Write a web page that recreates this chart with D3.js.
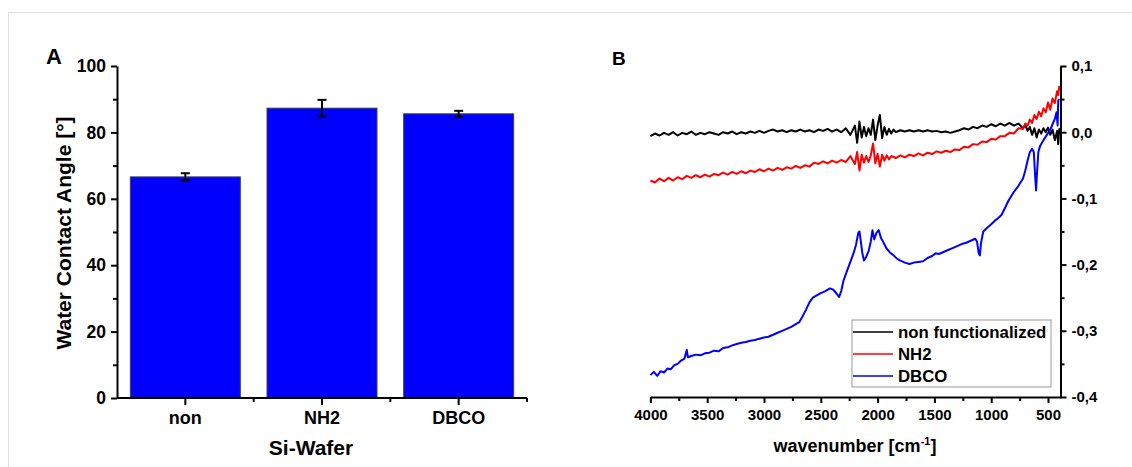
<!DOCTYPE html>
<html><head><meta charset="utf-8">
<script src="https://cdn.jsdelivr.net/npm/d3@7"></script>
<style>
html,body{margin:0;padding:0;background:#fff;}
svg text{font-family:"Liberation Sans",Arial,sans-serif;font-weight:bold;fill:#000;}
</style></head><body>
<svg id="c" width="1132" height="467"></svg>
<script>
// ---------- DATA ----------
const categories = ["non", "NH2", "DBCO"];
const contactAngle = [66.6, 87.3, 85.6];
const contactAngleErr = [1.1, 2.5, 0.9];
const yTicksA = [0, 20, 40, 60, 80, 100];
const yMinorA = [10, 30, 50, 70, 90];

const xTicksB = [4000, 3500, 3000, 2500, 2000, 1500, 1000, 500];
const xMinorB = [3750, 3250, 2750, 2250, 1750, 1250, 750];
const yTicksB = [0.1, 0.0, -0.1, -0.2, -0.3, -0.4];
const yMinorB = [0.05, -0.05, -0.15, -0.25, -0.35];

const seriesNames = ["non functionalized", "NH2", "DBCO"];
const seriesColors = ["#000000", "#ff0000", "#0000ff"];

const nonFunctionalized = [
[4000,-0.006],[3960,-0.002],[3920,-0.005],[3880,-0.001],[3840,-0.004],[3800,0.000],[3760,-0.005],[3720,-0.001],
[3680,-0.003],[3640,0.001],[3600,-0.004],[3560,-0.001],[3520,-0.003],[3480,0.000],[3440,-0.002],[3400,-0.004],
[3360,0.000],[3320,-0.002],[3280,0.001],[3240,-0.003],[3200,0.000],[3160,-0.002],[3120,0.001],[3080,-0.001],
[3040,0.002],[3000,-0.001],[2960,0.002],[2920,0.004],[2880,0.001],[2840,0.003],[2800,0.000],[2760,0.003],
[2720,0.001],[2680,0.004],[2640,0.001],[2600,0.003],[2560,0.000],[2520,0.004],[2480,0.002],[2440,0.005],
[2400,0.001],[2360,0.004],[2320,0.000],[2280,0.006],[2240,-0.004],[2200,0.010],[2180,-0.016],[2160,0.016],
[2140,-0.008],[2120,0.008],[2100,-0.006],[2080,0.006],[2060,-0.004],[2040,0.019],[2020,-0.012],[2000,0.010],
[1980,0.026],[1960,-0.009],[1940,0.008],[1920,-0.004],[1900,0.005],[1880,-0.002],[1860,0.004],[1840,0.000],
[1800,0.003],[1760,0.001],[1720,0.003],[1680,0.001],[1640,0.003],[1600,0.001],[1560,0.003],[1520,0.001],
[1480,0.002],[1440,0.000],[1400,0.001],[1360,-0.001],[1320,0.001],[1280,0.003],[1240,0.006],[1200,0.004],
[1160,0.008],[1120,0.006],[1080,0.010],[1040,0.008],[1000,0.012],[960,0.009],[920,0.013],[880,0.010],
[840,0.014],[800,0.010],[760,0.013],[720,0.006],[700,0.011],[680,0.002],[660,0.008],[640,-0.004],
[620,0.006],[600,-0.008],[580,0.004],[560,-0.002],[540,0.006],[520,0.000],[500,0.007],[480,-0.004],
[460,0.004],[440,-0.012],[420,0.002],[410,-0.018],[400,0.006]
];

const nh2 = [
[4000,-0.073],[3960,-0.076],[3920,-0.070],[3880,-0.074],[3840,-0.069],[3800,-0.073],[3760,-0.068],[3720,-0.071],
[3680,-0.066],[3640,-0.069],[3600,-0.065],[3560,-0.068],[3520,-0.064],[3480,-0.067],[3440,-0.063],[3400,-0.065],
[3360,-0.061],[3320,-0.064],[3280,-0.060],[3240,-0.063],[3200,-0.059],[3160,-0.062],[3120,-0.058],[3080,-0.060],
[3040,-0.056],[3000,-0.059],[2960,-0.055],[2920,-0.058],[2880,-0.054],[2840,-0.057],[2800,-0.053],[2760,-0.055],
[2720,-0.051],[2680,-0.054],[2640,-0.050],[2600,-0.052],[2560,-0.046],[2520,-0.048],[2480,-0.044],[2440,-0.047],
[2400,-0.043],[2360,-0.046],[2320,-0.042],[2280,-0.045],[2240,-0.036],[2200,-0.048],[2180,-0.030],[2160,-0.058],
[2140,-0.034],[2120,-0.046],[2100,-0.036],[2080,-0.045],[2060,-0.035],[2040,-0.017],[2020,-0.047],[2000,-0.033],
[1980,-0.052],[1960,-0.034],[1940,-0.043],[1920,-0.035],[1900,-0.041],[1880,-0.036],[1840,-0.039],[1800,-0.035],
[1760,-0.038],[1720,-0.034],[1680,-0.036],[1640,-0.032],[1600,-0.035],[1560,-0.031],[1520,-0.033],[1480,-0.029],
[1440,-0.031],[1400,-0.028],[1360,-0.030],[1320,-0.026],[1280,-0.027],[1240,-0.022],[1200,-0.023],[1160,-0.018],
[1120,-0.019],[1080,-0.014],[1040,-0.015],[1000,-0.010],[960,-0.011],[920,-0.006],[880,-0.006],[840,-0.001],
[800,-0.002],[760,0.006],[720,0.005],[700,0.013],[680,0.010],[660,0.019],[640,0.014],[620,0.026],
[600,0.020],[580,0.031],[560,0.024],[540,0.036],[520,0.030],[500,0.045],[480,0.034],[460,0.051],
[440,0.044],[420,0.062],[410,0.056],[400,0.070]
];

const dbco = [
[4000,-0.367],[3970,-0.362],[3940,-0.368],[3910,-0.361],[3880,-0.363],[3850,-0.357],[3820,-0.358],[3790,-0.352],
[3760,-0.350],[3730,-0.345],[3700,-0.342],[3680,-0.329],[3670,-0.340],[3640,-0.338],[3600,-0.336],[3560,-0.337],
[3520,-0.334],[3480,-0.333],[3440,-0.330],[3400,-0.331],[3360,-0.326],[3320,-0.325],[3280,-0.322],[3240,-0.320],
[3200,-0.318],[3160,-0.317],[3120,-0.315],[3080,-0.314],[3040,-0.312],[3000,-0.310],[2960,-0.309],[2920,-0.306],
[2880,-0.303],[2840,-0.300],[2800,-0.297],[2760,-0.294],[2720,-0.290],[2690,-0.287],[2660,-0.278],[2630,-0.268],
[2600,-0.257],[2570,-0.250],[2540,-0.247],[2500,-0.243],[2460,-0.240],[2420,-0.236],[2390,-0.238],[2360,-0.244],
[2340,-0.249],[2320,-0.240],[2300,-0.224],[2270,-0.210],[2240,-0.196],[2210,-0.182],[2190,-0.170],[2170,-0.152],
[2160,-0.150],[2150,-0.162],[2135,-0.182],[2120,-0.194],[2100,-0.188],[2080,-0.180],[2060,-0.165],[2045,-0.148],
[2030,-0.162],[2010,-0.152],[1990,-0.148],[1970,-0.160],[1950,-0.166],[1920,-0.176],[1890,-0.182],[1860,-0.186],
[1830,-0.191],[1800,-0.194],[1760,-0.197],[1720,-0.199],[1680,-0.197],[1640,-0.196],[1600,-0.195],[1560,-0.190],
[1520,-0.187],[1490,-0.183],[1460,-0.184],[1420,-0.181],[1380,-0.178],[1340,-0.175],[1300,-0.172],[1260,-0.169],
[1220,-0.167],[1180,-0.164],[1140,-0.161],[1125,-0.165],[1110,-0.183],[1100,-0.186],[1090,-0.168],[1070,-0.150],
[1040,-0.145],[1000,-0.139],[970,-0.134],[940,-0.130],[910,-0.125],[880,-0.115],[850,-0.104],[836,-0.100],
[800,-0.090],[760,-0.081],[720,-0.070],[700,-0.058],[680,-0.043],[660,-0.030],[640,-0.025],[625,-0.030],
[612,-0.070],[605,-0.088],[598,-0.065],[585,-0.030],[570,-0.021],[540,-0.012],[510,-0.004],[480,0.004],
[460,0.012],[440,0.020],[425,0.030],[415,0.010],[410,0.048],[400,0.050]
];
const spectra = [nonFunctionalized, nh2, dbco];

// ---------- DRAW ----------
const svg = d3.select("#c");
svg.append("rect").attr("x",8.5).attr("y",12.5).attr("width",1200).attr("height",500)
  .attr("fill","none").attr("stroke","#e3e3e3").attr("stroke-width",1);

function styleAxis(g){
  g.selectAll("path,line").attr("stroke","#000").attr("stroke-width",2);
}

// ===== Panel A =====
const xA = d3.scaleBand().domain(categories).range([117, 527]).paddingInner(0.195).paddingOuter(0.0975);
const yA = d3.scaleLinear().domain([0, 100]).range([398, 66]);

svg.append("g").selectAll("rect").data(categories).join("rect")
  .attr("x", d => xA(d)).attr("width", xA.bandwidth())
  .attr("y", (d,i) => yA(contactAngle[i])).attr("height", (d,i) => yA(0) - yA(contactAngle[i]))
  .attr("fill", "#0000ff").attr("stroke", "#444").attr("stroke-width", 1);

const eb = svg.append("g").attr("stroke","#000").attr("stroke-width",2);
categories.forEach((c,i) => {
  const cx = xA(c) + xA.bandwidth()/2;
  const y1 = yA(contactAngle[i] + contactAngleErr[i]), y2 = yA(contactAngle[i] - contactAngleErr[i]);
  eb.append("line").attr("x1",cx).attr("x2",cx).attr("y1",y1).attr("y2",y2);
  eb.append("line").attr("x1",cx-4.5).attr("x2",cx+4.5).attr("y1",y1).attr("y2",y1);
  eb.append("line").attr("x1",cx-4.5).attr("x2",cx+4.5).attr("y1",y2).attr("y2",y2);
});

const gyA = svg.append("g").attr("transform","translate(117,0)")
  .call(d3.axisLeft(yA).tickValues(yTicksA).tickSize(6).tickSizeOuter(0).tickPadding(5).tickFormat(d3.format("d")));
gyA.selectAll("text").style("font-size","17.5px");
styleAxis(gyA);
const gyAm = svg.append("g").attr("transform","translate(117,0)")
  .call(d3.axisLeft(yA).tickValues(yMinorA).tickSize(4).tickSizeOuter(0).tickFormat(""));
gyAm.select("path").remove(); styleAxis(gyAm);

const gxA = svg.append("g").attr("transform","translate(0,398)")
  .call(d3.axisBottom(xA).tickSize(7).tickSizeOuter(0).tickPadding(6));
gxA.selectAll("text").style("font-size","18px");
styleAxis(gxA);
gxA.select("path").attr("d", `M${xA.range()[0]},0H${xA.range()[1]}`);
const bounds = categories.map((c,i) => xA.range()[0] + (i+1)*xA.step());
svg.append("g").selectAll("line").data(bounds).join("line")
  .attr("x1", d=>d).attr("x2", d=>d).attr("y1", 398).attr("y2", 402)
  .attr("stroke","#000").attr("stroke-width",2);

svg.append("text").attr("x",311).attr("y",455).attr("text-anchor","middle").style("font-size","21px").text("Si-Wafer");
svg.append("text").attr("transform","translate(71,233) rotate(-90)").attr("text-anchor","middle")
  .style("font-size","21px").text("Water Contact Angle [°]");
svg.append("text").attr("x",46).attr("y",63.5).style("font-size","22px").text("A");

// ===== Panel B =====
const xB = d3.scaleLinear().domain([4000, 390]).range([650.4, 1060.5]);
const yB = d3.scaleLinear().domain([-0.4, 0.1]).range([397, 66]);
const loc = d3.formatLocale({decimal: ",", thousands: ".", grouping: [3], currency: ["", ""], minus: "-"});
const fmtB = loc.format(".1f");

const line = d3.line().x(d => xB(d[0])).y(d => yB(d[1]));
svg.append("g").selectAll("path").data(spectra).join("path")
  .attr("d", line).attr("fill","none")
  .attr("stroke", (d,i) => seriesColors[i]).attr("stroke-width", 2).attr("stroke-linejoin","round");

const gxB = svg.append("g").attr("transform","translate(0,397)")
  .call(d3.axisBottom(xB).tickValues(xTicksB).tickSize(6).tickSizeOuter(0).tickPadding(6).tickFormat(d3.format("d")));
gxB.selectAll("text").style("font-size","15px");
styleAxis(gxB);
const gxBm = svg.append("g").attr("transform","translate(0,397)")
  .call(d3.axisBottom(xB).tickValues(xMinorB).tickSize(4).tickSizeOuter(0).tickFormat(""));
gxBm.select("path").remove(); styleAxis(gxBm);

const gyB = svg.append("g").attr("transform","translate(1060.5,0)")
  .call(d3.axisRight(yB).tickValues(yTicksB).tickSize(6).tickSizeOuter(0).tickPadding(5).tickFormat(fmtB));
gyB.selectAll("text").style("font-size","15px");
styleAxis(gyB);
const gyBm = svg.append("g").attr("transform","translate(1060.5,0)")
  .call(d3.axisRight(yB).tickValues(yMinorB).tickSize(4).tickSizeOuter(0).tickFormat(""));
gyBm.select("path").remove(); styleAxis(gyBm);

const xt = svg.append("text").attr("x",855).attr("y",452).attr("text-anchor","middle").style("font-size","18px");
xt.append("tspan").text("wavenumber [cm");
xt.append("tspan").attr("dy",-7).style("font-size","11px").text("-1");
xt.append("tspan").attr("dy",7).text("]");
svg.append("text").attr("x",612).attr("y",65).style("font-size","19px").text("B");

// legend
const lg = svg.append("g");
lg.append("rect").attr("x",852).attr("y",320).attr("width",199).attr("height",67)
  .attr("fill","#fff").attr("stroke","#999").attr("stroke-width",1);
seriesNames.forEach((n,i) => {
  const yy = 332 + i*22;
  lg.append("line").attr("x1",853).attr("x2",893).attr("y1",yy).attr("y2",yy)
    .attr("stroke",seriesColors[i]).attr("stroke-width",1.7);
  lg.append("text").attr("x",898).attr("y",yy).attr("dy","0.35em").style("font-size","16.8px").text(n);
});
</script></body></html>
